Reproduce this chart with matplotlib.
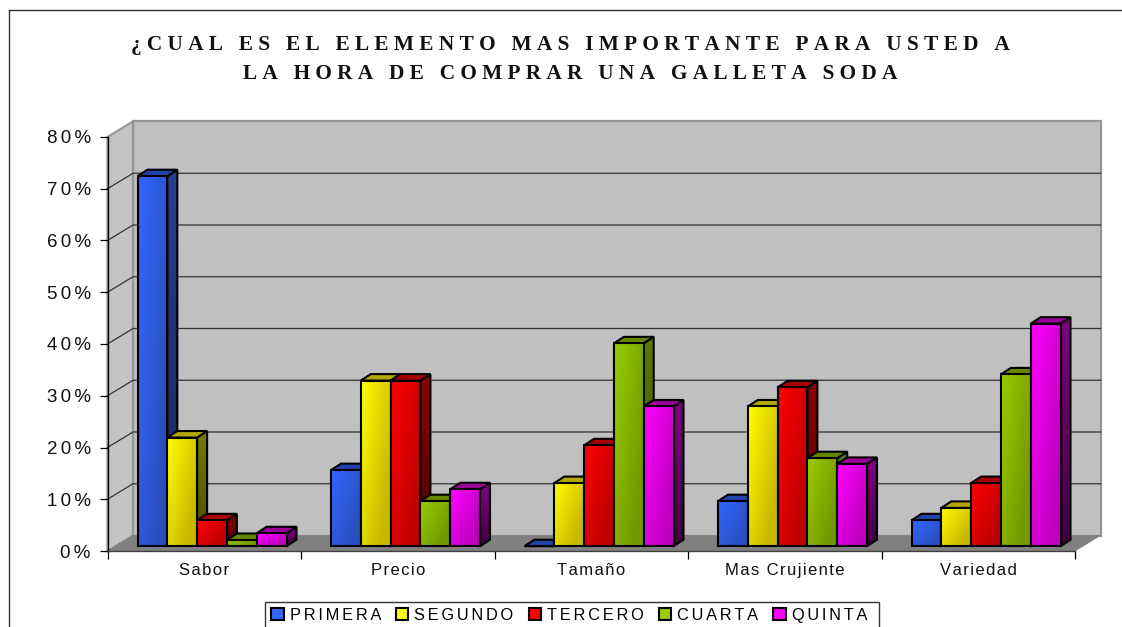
import numpy as np
import matplotlib
matplotlib.use("Agg")
import matplotlib.pyplot as plt
from matplotlib.patches import Polygon, Patch, Rectangle
from matplotlib.lines import Line2D
from matplotlib.colors import to_rgb

categories = ["Sabor", "Precio", "Tamaño", "Mas Crujiente", "Variedad"]
series_names = ["PRIMERA", "SEGUNDO", "TERCERO", "CUARTA", "QUINTA"]
primera = [71.5, 14.7, 0.0, 8.7, 5.0]
segundo = [21.0, 32.0, 12.2, 27.0, 7.4]
tercero = [5.0, 32.0, 19.5, 30.7, 12.2]
cuarta = [1.2, 8.7, 39.2, 17.0, 33.2]
quinta = [2.5, 11.0, 27.0, 15.9, 43.0]
y_ticks = [0, 10, 20, 30, 40, 50, 60, 70, 80]
title_lines = ["¿CUAL ES EL ELEMENTO MAS IMPORTANTE PARA USTED A",
               "LA HORA DE COMPRAR UNA GALLETA SODA"]
series = [primera, segundo, tercero, cuarta, quinta]

# light, dark, side-top, side-bottom, top face
palette = [("#3366FF", "#2A50C0", "#24408F", "#152654", "#2244AA"),
           ("#FFFF00", "#C8B800", "#7A7A00", "#4A4A00", "#B0A800"),
           ("#FF0000", "#BF0000", "#8A0000", "#4A0000", "#A80000"),
           ("#99CC00", "#739900", "#5C7A00", "#3A4A00", "#668800"),
           ("#FF00FF", "#BF00BF", "#800080", "#3D003D", "#990099")]

HS = "\u200a"
def spaced(s, n=1):
    return (HS * n).join(s)

W, H = 1122, 627
fig = plt.figure(figsize=(W / 100, H / 100), dpi=100, facecolor="white")
L, R, T, B = 107.5, 1075.0, 137.0, 551.0
ax = fig.add_axes([L / W, 1 - B / H, (R - L) / W, (B - T) / H])
ax.set_xlim(0, 5)
ax.set_ylim(0, 80)
ax.patch.set_visible(False)
px = 5 / (R - L)            # data units per pixel, x
py = 80 / (B - T)           # data units per pixel, y

for s in ("top", "right"):
    ax.spines[s].set_visible(False)
ax.spines["left"].set_color("black")
ax.spines["left"].set_linewidth(1.0)
ax.spines["bottom"].set_color("#404040")
ax.spines["bottom"].set_linewidth(1.0)

wall_dx, wall_dy = 25.5 * px, 15.5 * py
# back wall, side wall, floor
ax.add_patch(Polygon([(wall_dx, wall_dy), (5 + wall_dx, wall_dy), (5 + wall_dx, 80 + wall_dy), (wall_dx, 80 + wall_dy)],
                     closed=True, fc="#C0C0C0", ec="#969696", lw=1.6, zorder=1, clip_on=False))
ax.add_patch(Polygon([(0, 0), (wall_dx, wall_dy), (wall_dx, 80 + wall_dy), (0, 80)],
                     closed=True, fc="#C4C4C4", ec="#969696", lw=1.6, zorder=1.1, clip_on=False))
ax.add_patch(Polygon([(0, 0), (5, 0), (5 + wall_dx, wall_dy), (wall_dx, wall_dy)],
                     closed=True, fc="#808080", ec="#808080", lw=0.5, zorder=1.2, clip_on=False))
for v in y_ticks[1:-1]:
    ax.plot([0, wall_dx, 5 + wall_dx], [v, v + wall_dy, v + wall_dy], color="#333333", lw=0.9,
            zorder=1.5, clip_on=False)

def gradient(c0, c1, n=48, mode="diag"):
    u, v = np.meshgrid(np.linspace(0, 1, n), np.linspace(0, 1, n))   # v=0 at top row
    t = np.clip(0.7 * u + 0.55 * v, 0, 1) if mode == "diag" else v
    a, b = np.array(to_rgb(c0)), np.array(to_rgb(c1))
    return a + (b - a) * t[..., None]

bar_w = 29.8 * px
first = 30.0 * px
floor_dy = 4.8 * py
d_x, d_y = 10.0 * px, 6.5 * py
EDGE = 1.5
z = 10.0
for c in range(len(categories)):
    for s, vals in enumerate(series):
        v = vals[c]
        x0 = c + first + s * bar_w
        y0 = floor_dy
        y1 = y0 + v
        light, dark, st, sb, tp = palette[s]
        # side face
        side = Polygon([(x0 + bar_w, y0), (x0 + bar_w + d_x, y0 + d_y), (x0 + bar_w + d_x, y1 + d_y), (x0 + bar_w, y1)],
                       closed=True, fc=st, ec="none", zorder=z, clip_on=False)
        ax.add_patch(side)
        im = ax.imshow(gradient(st, sb, mode="v"), extent=(x0 + bar_w, x0 + bar_w + d_x, y0, y1 + d_y),
                       aspect="auto", zorder=z + 0.01, interpolation="bilinear")
        im.set_clip_path(side)
        ax.add_patch(Polygon(side.get_xy(), closed=True, fc="none", ec="black", lw=EDGE, zorder=z + 0.02,
                             clip_on=False, joinstyle="miter"))
        # top face
        ax.add_patch(Polygon([(x0, y1), (x0 + d_x, y1 + d_y), (x0 + bar_w + d_x, y1 + d_y), (x0 + bar_w, y1)],
                             closed=True, fc=tp, ec="black", lw=EDGE, zorder=z + 0.03, clip_on=False, joinstyle="miter"))
        # front face
        ax.bar(x0, v, bar_w, bottom=y0, align="edge", color=light, edgecolor="none", zorder=z + 0.04, clip_on=False)
        if v > 0:
            ax.imshow(gradient(light, dark), extent=(x0, x0 + bar_w, y0, y1), aspect="auto",
                      zorder=z + 0.05, interpolation="bilinear", clip_on=False)
        ax.bar(x0, v, bar_w, bottom=y0, align="edge", color="none", edgecolor="black", linewidth=EDGE,
               zorder=z + 0.06, clip_on=False)
        z += 1
ax.set_xlim(0, 5)
ax.set_ylim(0, 80)

ax.set_yticks(y_ticks)
ax.set_yticklabels([spaced(f"{v}%", 2) for v in y_ticks], fontsize=13.5, family="Liberation Sans", color="#111111")
ax.tick_params(axis="y", length=6, width=0.9, pad=6, color="black")
ax.set_xticks(range(6))
ax.set_xticklabels([""] * 6)
ax.tick_params(axis="x", which="major", length=6, width=0.9, color="black")
ax.set_xticks(np.arange(5) + 0.5, minor=True)
ax.set_xticklabels([spaced(c, 1) for c in categories], minor=True, fontsize=12, family="Liberation Sans",
                   color="#111111", va="baseline")
ax.tick_params(axis="x", which="minor", length=0, pad=17.3)

fig.text(570.5 / W, 1 - 59.5 / H, "\n".join(spaced(t, 3) for t in title_lines), ha="center", va="center",
         family="Liberation Serif", fontweight="bold", fontsize=15.4, linespacing=1.65, color="#111111")

# outer frame, open at right and bottom as in the clipped original
fig.add_artist(Line2D([8.5 / W, 1], [1 - 10 / H, 1 - 10 / H], color="#333333", lw=1.0, transform=fig.transFigure))
fig.add_artist(Line2D([8.5 / W, 8.5 / W], [1 - 10 / H, 0], color="#333333", lw=1.0, transform=fig.transFigure))

# legend box runs past the bottom edge of the picture
fig.add_artist(Rectangle((265 / W, 1 - 640 / H), (879 - 265) / W, (640 - 601.5) / H, transform=fig.transFigure,
                         fc="white", ec="#333333", lw=1.0, zorder=5))
handles = [Patch(facecolor=p[0], edgecolor="black", linewidth=1.5) for p in palette]
leg = fig.legend(handles, [spaced(n, 2) for n in series_names], ncol=5, loc="upper left",
                 bbox_to_anchor=(265 / W, 1 - 601.5 / H), frameon=False,
                 borderaxespad=0, borderpad=0.38, handlelength=0.75, handleheight=0.75,
                 handletextpad=0.37, columnspacing=0.92, prop={"family": "Liberation Sans", "size": 11.8})
leg.set_zorder(6)

fig.savefig("out.png", dpi=100, facecolor="white")
